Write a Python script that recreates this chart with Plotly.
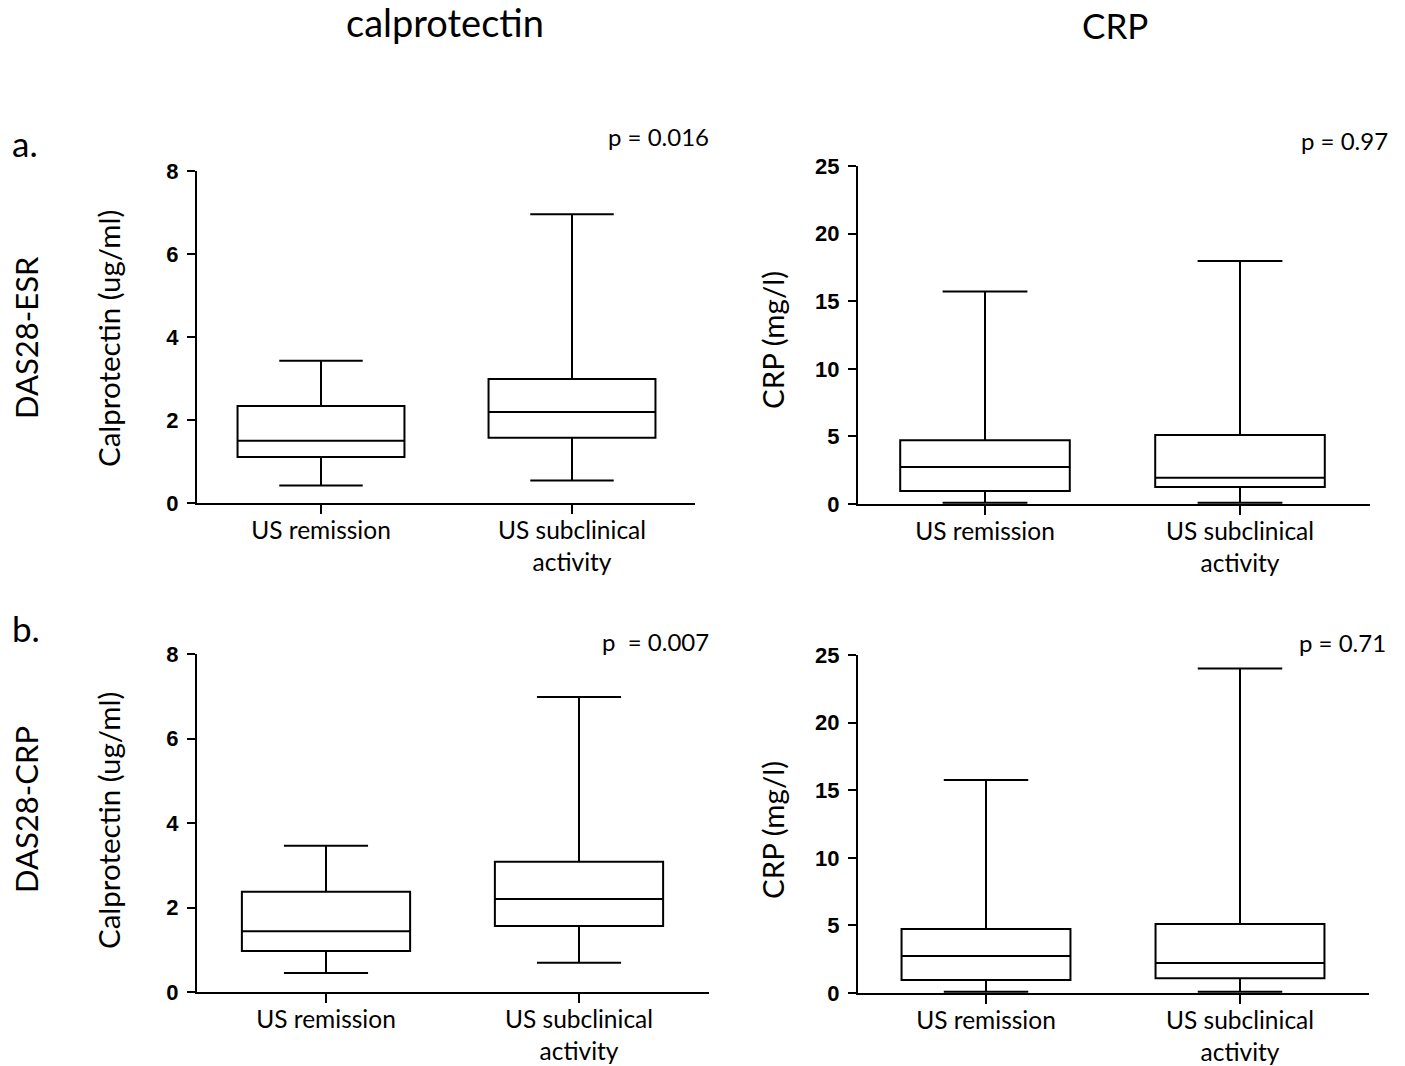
import plotly.graph_objects as go

W, H = 1405, 1066

categories = ["US remission", "US subclinical<br>activity"]

# Panel a (DAS28-ESR) calprotectin
a_cal_low = [0.42, 0.54]
a_cal_q1 = [1.11, 1.57]
a_cal_med = [1.50, 2.19]
a_cal_q3 = [2.34, 2.99]
a_cal_high = [3.43, 6.96]

# Panel a CRP
a_crp_low = [0.1, 0.1]
a_crp_q1 = [0.96, 1.26]
a_crp_med = [2.73, 1.95]
a_crp_q3 = [4.72, 5.10]
a_crp_high = [15.72, 17.97]

# Panel b (DAS28-CRP) calprotectin
b_cal_low = [0.45, 0.69]
b_cal_q1 = [0.97, 1.56]
b_cal_med = [1.44, 2.20]
b_cal_q3 = [2.37, 3.08]
b_cal_high = [3.46, 6.98]

# Panel b CRP
b_crp_low = [0.1, 0.1]
b_crp_q1 = [0.96, 1.10]
b_crp_med = [2.74, 2.22]
b_crp_q3 = [4.73, 5.10]
b_crp_high = [15.75, 24.0]

cal_ticks = [0, 2, 4, 6, 8]
crp_ticks = [0, 5, 10, 15, 20, 25]

TXT = "Lato"

fig = go.Figure()

def px_x(p):
    return p / W

def px_y(p):
    return 1 - p / H

panels = [
    ("", a_cal_low, a_cal_q1, a_cal_med, a_cal_q3, a_cal_high, 197, 695, 503, 171, 321, 572, [0, 8], cal_ticks),
    ("2", a_crp_low, a_crp_q1, a_crp_med, a_crp_q3, a_crp_high, 858, 1370, 504, 166, 985, 1240, [0, 25], crp_ticks),
    ("3", b_cal_low, b_cal_q1, b_cal_med, b_cal_q3, b_cal_high, 197, 709, 992, 654, 326, 579, [0, 8], cal_ticks),
    ("4", b_crp_low, b_crp_q1, b_crp_med, b_crp_q3, b_crp_high, 858, 1369, 993, 655, 986, 1240, [0, 25], crp_ticks),
]

layout_axes = {}
for (suf, lo, q1, med, q3, hi, x0, x1, y0, y1, c0, c1, yr, ticks) in panels:
    fig.add_trace(go.Box(
        x=categories, q1=q1, median=med, q3=q3, lowerfence=lo, upperfence=hi,
        fillcolor="white", line=dict(color="black", width=2),
        whiskerwidth=0.5, width=0.665, boxpoints=False, showlegend=False,
        xaxis="x" + suf, yaxis="y" + suf,
    ))
    sp = c1 - c0
    xr = [-(c0 - x0) / sp, 1 + (x1 - c1) / sp]
    layout_axes["xaxis" + suf] = dict(
        domain=[px_x(x0), px_x(x1)], anchor="y" + suf, range=xr,
        type="category", showline=True, linecolor="black", linewidth=2,
        ticks="outside", ticklen=9, tickwidth=2, tickcolor="black",
        showgrid=False, zeroline=False, automargin=False,
        ticklabelstandoff=-4,
        tickfont=dict(family=TXT, size=24.5, color="black"),
    )
    layout_axes["yaxis" + suf] = dict(
        domain=[px_y(y0), px_y(y1)], anchor="x" + suf, range=yr,
        tickvals=ticks, showline=True, linecolor="black", linewidth=2,
        ticks="outside", ticklen=8, tickwidth=2, tickcolor="black",
        showgrid=False, zeroline=False, automargin=False,
        ticklabelstandoff=4,
        tickfont=dict(family="Liberation Sans", size=22, color="black", weight="bold"),
    )

annotations = []

def ann(text, xp, yp, size, xanchor="center", yanchor="middle", angle=0, family=TXT):
    annotations.append(dict(
        text=text, x=px_x(xp), y=px_y(yp), xref="paper", yref="paper",
        xanchor=xanchor, yanchor=yanchor, showarrow=False, textangle=angle,
        font=dict(family=family, size=size, color="black"),
    ))

ann("calprotectin", 445, 22, 38)
ann("CRP", 1115, 25, 35)
ann("a.", 10, 143, 35, xanchor="left")
ann("b.", 10, 628, 35, xanchor="left")
ann("DAS28-ESR", 26, 338, 31, angle=-90)
ann("DAS28-CRP", 26, 810, 31, angle=-90)
ann("Calprotectin (ug/ml)", 108, 339, 29.5, angle=-90)
ann("CRP (mg/l)", 772, 340, 29.5, angle=-90)
ann("Calprotectin (ug/ml)", 108, 821, 29.5, angle=-90)
ann("CRP (mg/l)", 772, 830, 29.5, angle=-90)
ann("p = 0.016", 711, 137, 24, xanchor="right")
ann("p = 0.97", 1390, 140, 24, xanchor="right")
ann("p  = 0.007", 711, 641, 24, xanchor="right")
ann("p = 0.71", 1388, 642, 24, xanchor="right")

fig.update_layout(
    width=W, height=H, margin=dict(l=0, r=0, t=0, b=0, autoexpand=False),
    paper_bgcolor="white", plot_bgcolor="white",
    annotations=annotations, showlegend=False,
    **layout_axes,
)

fig.write_html("out.html", config={"displayModeBar": False},
               post_script="document.body.style.margin='0';")
